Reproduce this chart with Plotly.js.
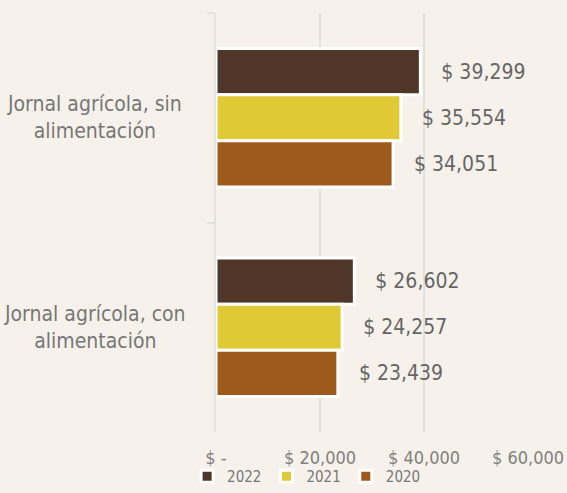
<!DOCTYPE html>
<html>
<head>
<meta charset="utf-8">
<script src="https://cdn.plot.ly/plotly-3.0.1.min.js"></script>
<style>html,body{margin:0;padding:0;background:#f6f2eb;}</style>
</head>
<body>
<div id="chart" style="width:567px;height:493px;"></div>
<script>
const categories = ["Jornal agrícola, sin alimentación", "Jornal agrícola, con alimentación"];
const categoryLabels = ["Jornal agrícola, sin<br>alimentación", "Jornal agrícola, con<br>alimentación"];
const years = ["2022", "2021", "2020"];
const values2022 = [39299, 26602];
const values2021 = [35554, 24257];
const values2020 = [34051, 23439];
const tickValues = [0, 20000, 40000, 60000];
const tickLabels = ["$ -", "$ 20,000", "$ 40,000", "$ 60,000"];

const FONT = "DejaVu Sans Condensed, Liberation Sans Narrow, sans-serif";
const colors = ["#4f3629", "#dfc934", "#9e5a1b"];
const series = [values2022, values2021, values2020];
const pad = "\u00a0\u00a0\u00a0";

const data = series.map((vals, i) => ({
  type: "bar",
  orientation: "h",
  name: years[i],
  x: vals,
  y: categories,
  marker: {color: colors[i], line: {color: "#ffffff", width: 3}},
  texttemplate: pad + "$ %{x:,.0f}",
  textposition: "outside",
  cliponaxis: false,
  textfont: {family: FONT, size: 21, color: "#666666"},
  hoverinfo: "none"
}));

const annotations = categories.map((c, i) => ({
  xref: "paper", yref: "y", x: -0.388, y: c,
  xanchor: "center", yanchor: "middle", align: "center",
  text: categoryLabels[i], showarrow: false,
  font: {family: FONT, size: 21, color: "#777777"}
}));

const layout = {
  width: 567, height: 493,
  margin: {l: 216, r: 39, t: 13, b: 61},
  paper_bgcolor: "#f6f2eb",
  plot_bgcolor: "#f6f2eb",
  barmode: "group",
  bargap: 0.34,
  bargroupgap: 0,
  showlegend: true,
  legend: {
    orientation: "h", xref: "container", yref: "container",
    x: 0.33, xanchor: "left", y: 0, yanchor: "bottom",
    font: {family: FONT, size: 15, color: "#777777"},
    itemwidth: 30, tracegroupgap: 0, traceorder: "normal",
    bgcolor: "rgba(0,0,0,0)"
  },
  xaxis: {
    range: [0, 60000],
    tickvals: tickValues, ticktext: tickLabels,
    showgrid: true, gridcolor: "#e4e2de", gridwidth: 2,
    zeroline: false, showline: false,
    tickfont: {family: FONT, size: 18, color: "#808080"},
    ticks: "", ticklabelstandoff: 13, fixedrange: true
  },
  yaxis: {
    autorange: "reversed",
    showticklabels: false,
    showgrid: false, zeroline: false,
    showline: true, linecolor: "#e4e2de", linewidth: 2,
    ticks: "outside", tickson: "boundaries", ticklen: 7, tickwidth: 2, tickcolor: "#e4e2de",
    fixedrange: true
  },
  annotations: annotations
};

Plotly.newPlot("chart", data, layout, {displayModeBar: false, staticPlot: true});
</script>
</body>
</html>
